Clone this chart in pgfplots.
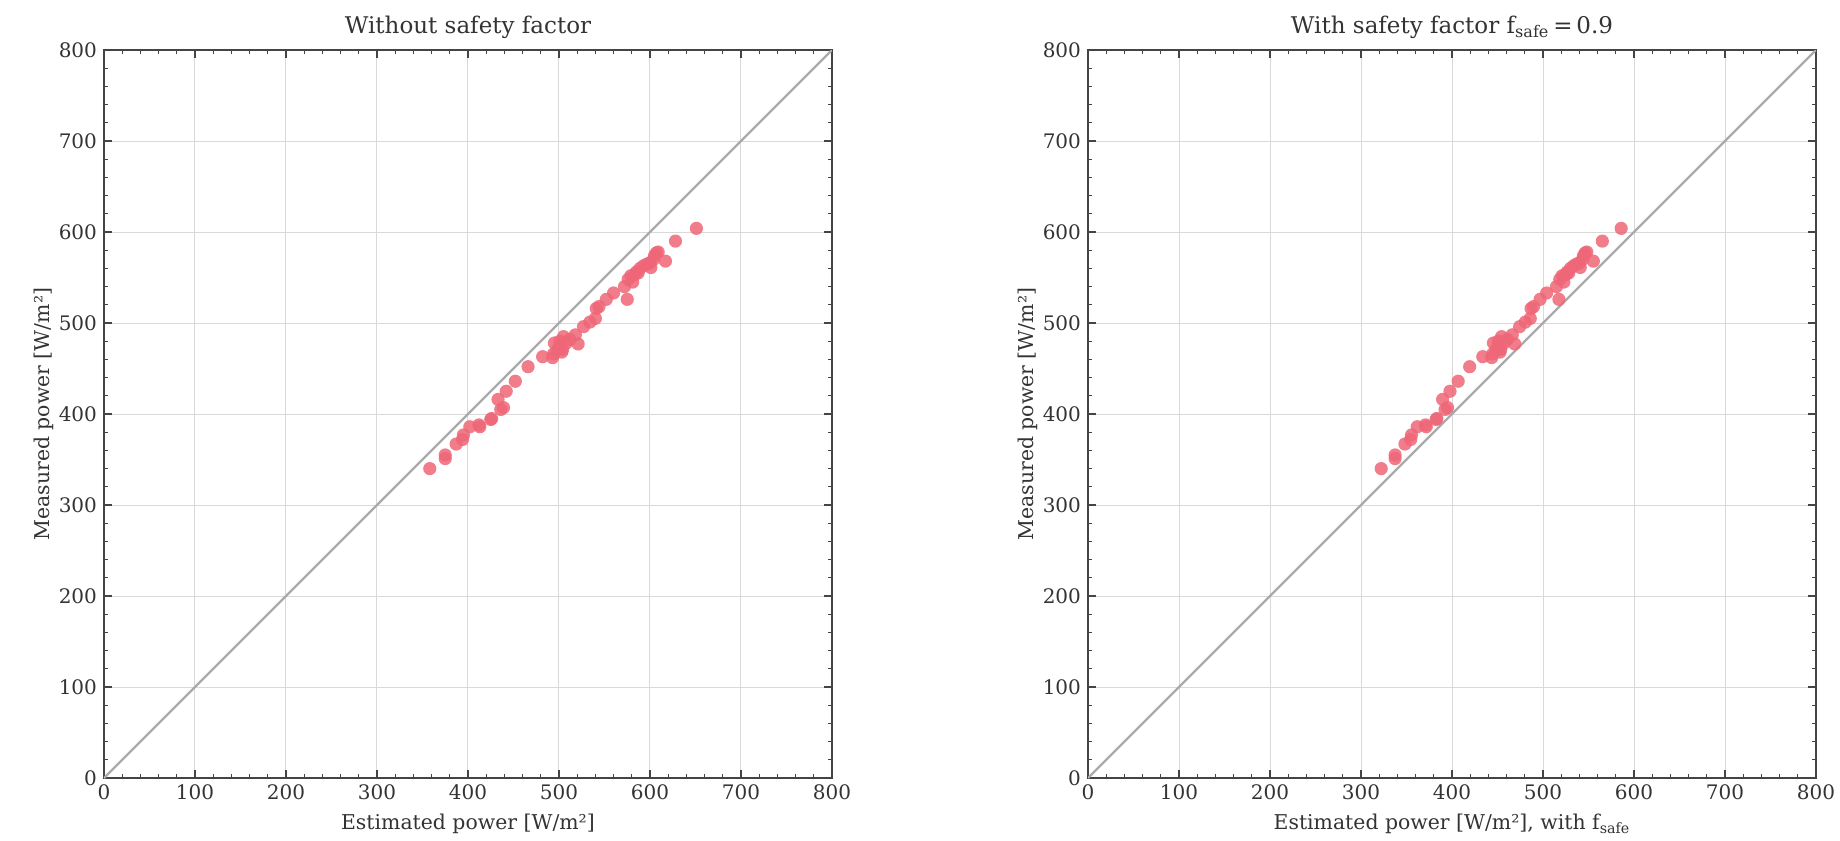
\documentclass[border=0pt]{standalone}
\usepackage{fontspec}
\setmainfont{DejaVu Serif}
\usepackage{pgfplots}
\usepackage{pgfplotstable}
\pgfplotsset{compat=1.18}

\definecolor{ptred}{HTML}{EE6677}
\definecolor{diag}{HTML}{AAAAAA}
\definecolor{txt}{HTML}{333333}
\definecolor{axl}{HTML}{444444}

% estimated power, estimated power times f_safe = 0.9, measured power
\pgfplotstableread{
est safe meas
358 322.2 340
375 337.5 355
375 337.5 351
387 348.3 367
394 354.6 372
395 355.5 377
402 361.8 386
412 370.8 388
413 371.7 386
425 382.5 394
426 383.4 395
433 389.7 416
436 392.4 405
439 395.1 407
442 397.8 425
452 406.8 436
466 419.4 452
482 433.8 463
493 443.7 462
494 444.6 466
495 445.5 478
498 448.2 470
500 450.0 473
501 450.9 480
503 452.7 468
504 453.6 471
505 454.5 485
508 457.2 478
512 460.8 482
518 466.2 487
521 468.9 477
527 474.3 496
534 480.6 501
540 486.0 505
541 486.9 516
544 489.6 518
552 496.8 526
560 504.0 533
572 514.8 540
575 517.5 526
576 518.4 548
579 521.1 552
581 522.9 545
583 524.7 553
585 526.5 556
587 528.3 555
589 530.1 560
593 533.7 563
597 537.3 565
600 540.0 566
601 540.9 561
604 543.6 570
605 544.5 574
607 546.3 577
609 548.1 578
617 555.3 568
628 565.2 590
651 585.9 604
}\data

\pgfplotsset{
  panel/.style={
    scale only axis, width=364pt, height=364pt,
    xmin=0, xmax=800, ymin=0, ymax=800,
    xtick distance=100, ytick distance=100, minor tick num=4,
    tick align=inside,
    major tick length=4pt, minor tick length=2.2pt,
    every tick/.style={axl, line width=0.6pt},
    axis line style={axl, line width=0.8pt},
    grid=major,
    major grid style={draw=black!15, line width=0.5pt},
    tick label style={font=\fontsize{10}{12}\selectfont, text=txt},
    label style={font=\fontsize{10.2}{12}\selectfont, text=txt},
    title style={font=\fontsize{11.5}{13}\selectfont, text=txt, yshift=-4pt},
    ylabel style={yshift=-4.5pt},
    /pgf/number format/assume math mode=true,
    ylabel={Measured power [W/m²]},
  },
  pts/.style={only marks, mark=*, mark size=3.3pt, color=ptred,
    mark options={draw=ptred, draw opacity=0, fill=ptred, fill opacity=0.85}},
}

\begin{document}
\begin{tikzpicture}
\path[use as bounding box] (-52pt,-31pt) rectangle (868pt,389pt);

\begin{axis}[panel, at={(0pt,0pt)},
  title={Without safety factor},
  xlabel={Estimated power [W/m²]}]
\addplot[diag, line width=1.1pt] coordinates {(0,0) (800,800)};
\addplot[pts] table[x=est, y=meas] {\data};
\end{axis}

\begin{axis}[panel, at={(492pt,0pt)},
  title={With safety factor f\textsubscript{safe}\,=\,0.9},
  xlabel={Estimated power [W/m²], with f\textsubscript{safe}}]
\addplot[diag, line width=1.1pt] coordinates {(0,0) (800,800)};
\addplot[pts] table[x=safe, y=meas] {\data};
\end{axis}
\end{tikzpicture}
\end{document}
